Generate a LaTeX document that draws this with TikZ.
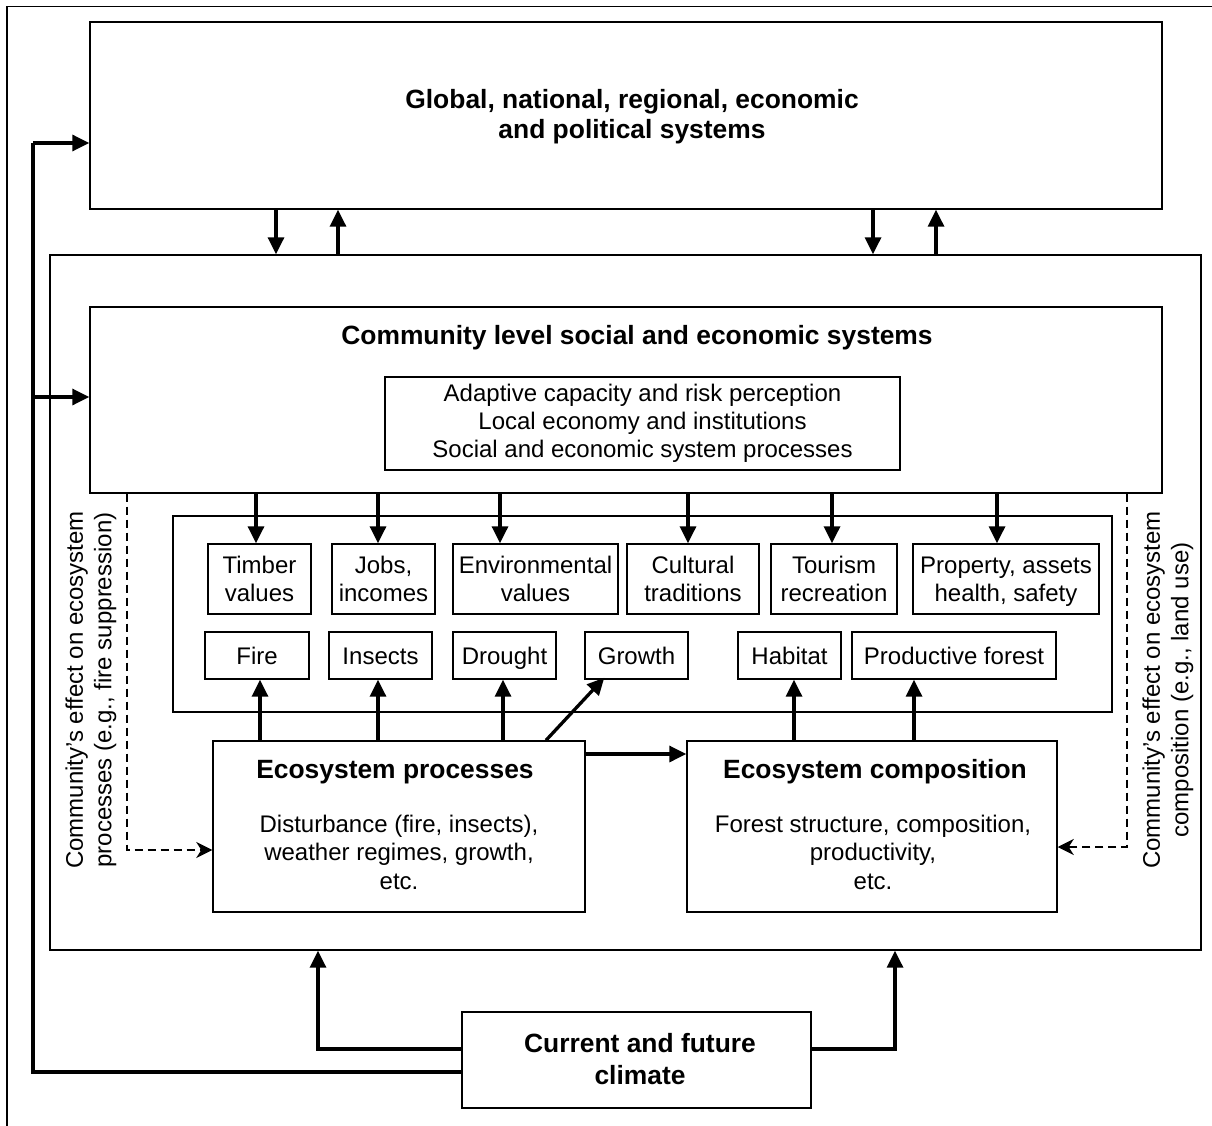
\documentclass[tikz,border=0pt]{standalone}
\usepackage{fontspec}
\setmainfont{Liberation Sans}
\usetikzlibrary{arrows.meta,calc}
\begin{document}
\begin{tikzpicture}[x=1pt,y=-1pt,
  box/.style={draw, line width=1.4pt, inner sep=0pt, align=center,
    font=\fontsize{24}{28}\selectfont},
  onel/.style={box, text height=17.5pt, text depth=0pt},
  head/.style={inner sep=0pt, align=center, font=\fontsize{26.4}{30}\selectfont\bfseries},
  txt/.style={inner sep=0pt, align=center, font=\fontsize{24}{28.5}\selectfont},
  arr/.style={line width=3.3pt, -{Triangle[length=17pt,width=16pt]}},
  dasharr/.style={line width=2.8pt, dash pattern=on 8pt off 5pt,
    -{Stealth[length=16pt,width=16pt,inset=5pt]}},
  frame/.style={line width=1.4pt}]
\useasboundingbox (0,0) rectangle (1212,1126);
% outer partial frame
\draw[frame] (1212,6.5) -- (7,6.5) -- (7,1126);
% main boxes
\node[box, minimum width=1072pt, minimum height=187pt] (gl) at (626,115.5) {};
\node[head] (glt) at (632,117) {Global, national, regional, economic\\and political systems};
\node[box, minimum width=1151pt, minimum height=695pt] (big) at (625.5,602.5) {};
\node[box, minimum width=1072pt, minimum height=186pt] (cm) at (626,400) {};
\node[head] (cmt) at (637,338) {Community level social and economic systems};
\node[box, minimum width=515pt, minimum height=93pt] (inr) at (642.5,423.5) {Adaptive capacity and risk perception\\Local economy and institutions\\Social and economic system processes};
\node[box, minimum width=939pt, minimum height=196pt] (ct) at (642.5,614) {};
% top row
\node[box, minimum width=103pt, minimum height=70pt] (timber) at (259.5,579) {Timber\\values};
\node[box, minimum width=103pt, minimum height=70pt] (jobs) at (383.5,579) {Jobs,\\incomes};
\node[box, minimum width=165pt, minimum height=70pt] (env) at (535.5,579) {Environmental\\values};
\node[box, minimum width=132pt, minimum height=70pt] (cult) at (693,579) {Cultural\\traditions};
\node[box, minimum width=126pt, minimum height=70pt] (tour) at (834,579) {Tourism\\recreation};
\node[box, minimum width=186pt, minimum height=70pt] (prop) at (1006,579) {Property, assets\\\smash{health, safety}};
% bottom row
\node[onel, minimum width=104pt, minimum height=47pt] (fire) at (257,655.5) {Fire};
\node[onel, minimum width=103pt, minimum height=47pt] (ins) at (380.5,655.5) {Insects};
\node[onel, minimum width=103pt, minimum height=47pt] (dro) at (504.5,655.5) {Drought};
\node[onel, minimum width=103pt, minimum height=47pt] (gro) at (636.5,655.5) {Growth};
\node[onel, minimum width=103pt, minimum height=47pt] (hab) at (789.5,655.5) {Habitat};
\node[onel, minimum width=204pt, minimum height=47pt] (prod) at (954,655.5) {Productive forest};
% ecosystem boxes
\node[box, minimum width=372pt, minimum height=171pt] (ep) at (399,826.5) {};
\node[head] (ept) at (395,772) {Ecosystem processes};
\node[txt] (epb) at (399,852) {Disturbance (fire, insects),\\weather regimes, growth,\\etc.};
\node[box, minimum width=370pt, minimum height=171pt] (ec) at (872,826.5) {};
\node[head] (ect) at (875,772) {Ecosystem composition};
\node[txt] (ecb) at (873,852) {Forest structure, composition,\\productivity,\\etc.};
% climate
\node[box, minimum width=349pt, minimum height=96pt] (clim) at (636.5,1060) {};
\node[head, font=\fontsize{26.4}{32}\selectfont\bfseries] (climt) at (640,1059) {Current and future\\climate};
% side labels
\node[txt, rotate=90] (lab1) at (91,690) {Community’s effect on ecosystem\\processes (e.g., fire suppression)};
\node[txt, rotate=90] (lab2) at (1168,690) {Community’s effect on ecosystem\\composition (e.g., land use)};
% global <-> big
\draw[arr] (276,0 |- gl.south) -- (276,0 |- big.north);
\draw[arr] (338,0 |- big.north) -- (338,0 |- gl.south);
\draw[arr] (873,0 |- gl.south) -- (873,0 |- big.north);
\draw[arr] (936,0 |- big.north) -- (936,0 |- gl.south);
% climate feedbacks
\coordinate (lc) at (33,397);
\draw[line width=3.3pt] (clim.west |- 0,1072) -- (33,1072) -- (33,143);
\draw[arr] (33,143) -- (gl.west |- 0,143);
\draw[arr] (lc) -- (cm.west |- lc);
\draw[arr] (clim.west |- 0,1049) -| (318,0 |- big.south);
\draw[arr] (clim.east |- 0,1049) -| (895,0 |- big.south);
% community -> values
\draw[arr] (256,0 |- cm.south) -- (256,0 |- timber.north);
\draw[arr] (378,0 |- cm.south) -- (378,0 |- jobs.north);
\draw[arr] (500,0 |- cm.south) -- (500,0 |- env.north);
\draw[arr] (688,0 |- cm.south) -- (688,0 |- cult.north);
\draw[arr] (832,0 |- cm.south) -- (832,0 |- tour.north);
\draw[arr] (997,0 |- cm.south) -- (997,0 |- prop.north);
% ecosystem -> effects
\draw[arr] (260,0 |- ep.north) -- (260,0 |- fire.south);
\draw[arr] (378,0 |- ep.north) -- (378,0 |- ins.south);
\draw[arr] (503,0 |- ep.north) -- (503,0 |- dro.south);
\draw[arr] (546,0 |- ep.north) -- ([xshift=20pt,yshift=2pt]gro.south west);
\draw[arr] (794,0 |- ec.north) -- (794,0 |- hab.south);
\draw[arr] (914,0 |- ec.north) -- (914,0 |- prod.south);
\draw[arr] (ep.east |- 0,754) -- (ec.west |- 0,754);
% dashed community effects
\draw[dasharr] (127,0 |- cm.south) |- (ep.west |- 0,850);
\draw[dasharr] (1127,0 |- cm.south) |- (ec.east |- 0,847);
\end{tikzpicture}
\end{document}
